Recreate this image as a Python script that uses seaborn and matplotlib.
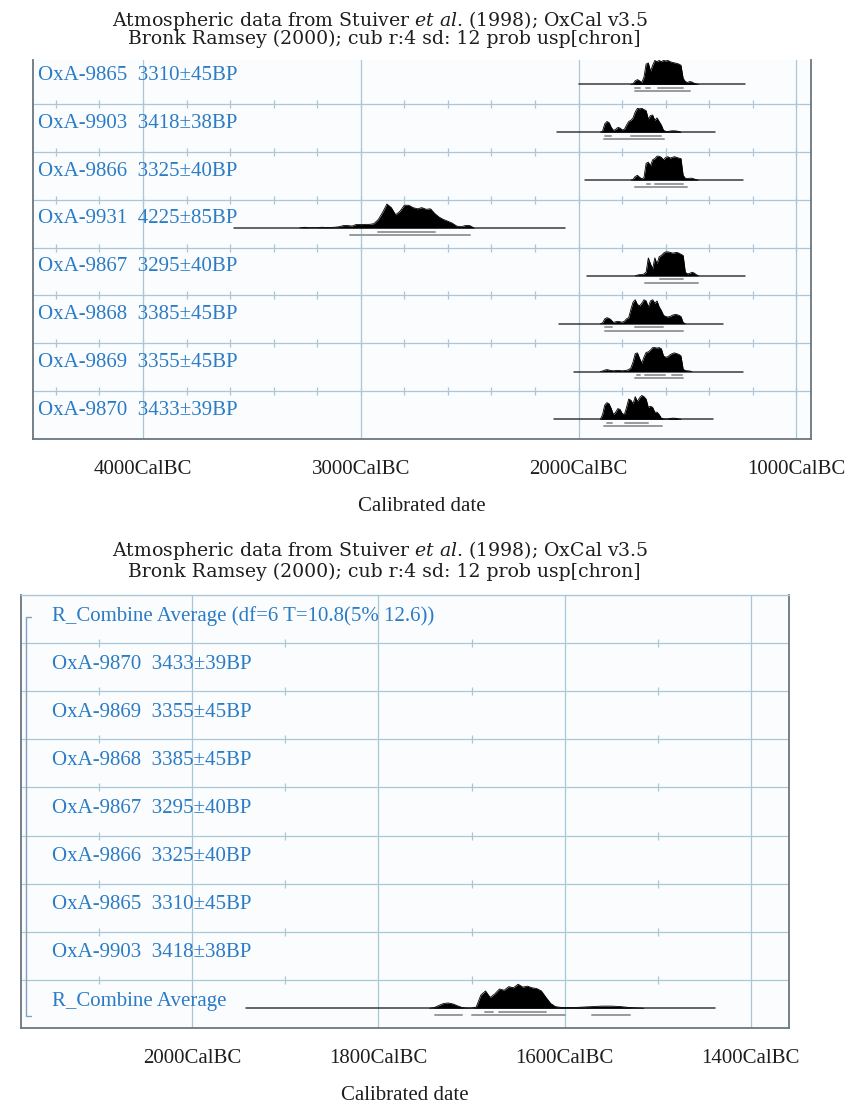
import numpy as np
import matplotlib
matplotlib.use("Agg")
import matplotlib.pyplot as plt
import seaborn as sns
from matplotlib.ticker import FixedLocator, FuncFormatter

# ---- data ----
lab_codes = ["OxA-9865", "OxA-9903", "OxA-9866", "OxA-9931",
             "OxA-9867", "OxA-9868", "OxA-9869", "OxA-9870"]
bp_ages = ["3310\u00b145BP", "3418\u00b138BP", "3325\u00b140BP", "4225\u00b185BP",
           "3295\u00b140BP", "3385\u00b145BP", "3355\u00b145BP", "3433\u00b139BP"]
# calibrated range drawn as the thin line (years BC)
range_start = [2000, 2099, 1969, 3580, 1962, 2092, 2023, 2115]
range_end = [1235, 1374, 1244, 2062, 1237, 1336, 1244, 1382]

# probability curves: first year BC, step in years, relative height
p9865_start, p9865_step = 1760, 10
p9865 = [0, 0.02, 0.15, 0.2, 0.15, 0.08, 0.3, 0.85, 0.9, 0.55, 0.8, 1.0, 0.95, 1.0,
         0.95, 1.0, 0.98, 1.0, 0.95, 0.92, 0.9, 0.88, 0.85, 0.8, 0.25, 0.12, 0.08,
         0.12, 0.1, 0.05, 0.02, 0]
p9903_start, p9903_step = 1900, 10
p9903 = [0, 0.05, 0.35, 0.45, 0.4, 0.2, 0.08, 0.12, 0.2, 0.18, 0.1, 0.12, 0.3, 0.45,
         0.5, 0.6, 0.85, 1.0, 0.98, 1.0, 0.95, 0.9, 0.55, 0.7, 0.72, 0.5, 0.6, 0.45,
         0.3, 0.08, 0.04, 0.03, 0.05, 0.06, 0.06, 0.05, 0.03, 0]
p9866_start, p9866_step = 1760, 10
p9866 = [0, 0.03, 0.15, 0.2, 0.12, 0.05, 0.1, 0.7, 0.75, 0.6, 0.85, 0.9, 1.0, 1.0,
         0.95, 0.85, 0.95, 0.98, 0.92, 0.95, 0.98, 0.95, 0.92, 0.9, 0.2, 0.08, 0.06,
         0.08, 0.08, 0.05, 0.02, 0]
p9931_start, p9931_step = 3280, 20
p9931 = [0, 0.03, 0.01, 0.01, 0.01, 0.03, 0.02, 0.02, 0.03, 0.05, 0.1, 0.1, 0.08,
         0.15, 0.14, 0.15, 0.15, 0.18, 0.35, 0.65, 1.0, 0.85, 0.55, 0.7, 0.95, 0.95,
         0.85, 0.8, 0.85, 0.78, 0.8, 0.6, 0.45, 0.35, 0.28, 0.2, 0.08, 0.05, 0.1,
         0.1, 0]
p9867_start, p9867_step = 1740, 10
p9867 = [0, 0.03, 0.05, 0.05, 0.08, 0.15, 0.75, 0.5, 0.3, 0.75, 0.5, 0.8, 0.85, 0.95,
         1.0, 1.0, 0.98, 0.95, 0.96, 0.98, 0.95, 0.9, 0.85, 0.15, 0.08, 0.1, 0.15,
         0.12, 0.05, 0]
p9868_start, p9868_step = 1900, 10
p9868 = [0, 0.03, 0.2, 0.25, 0.22, 0.15, 0.05, 0.08, 0.1, 0.08, 0.06, 0.1, 0.2, 0.25,
         0.6, 0.9, 1.0, 0.8, 0.75, 0.85, 1.0, 0.95, 0.7, 0.95, 1.0, 0.85, 0.95, 0.7,
         0.55, 0.35, 0.3, 0.28, 0.3, 0.35, 0.38, 0.38, 0.35, 0.3, 0.05, 0]
p9869_start, p9869_step = 1900, 10
p9869 = [0, 0.02, 0.06, 0.08, 0.06, 0.04, 0.03, 0.04, 0.05, 0.04, 0.03, 0.04, 0.05,
         0.08, 0.15, 0.4, 0.75, 0.78, 0.55, 0.35, 0.6, 0.8, 0.82, 0.9, 1.0, 1.0, 0.98,
         1.0, 0.95, 0.65, 0.6, 0.62, 0.7, 0.75, 0.78, 0.75, 0.72, 0.65, 0.1, 0.04,
         0.03, 0.02, 0]
p9870_start, p9870_step = 1900, 10
p9870 = [0, 0.2, 0.6, 0.7, 0.65, 0.45, 0.2, 0.3, 0.45, 0.42, 0.25, 0.2, 0.5, 0.85,
         0.8, 0.65, 0.95, 0.75, 0.9, 1.0, 0.95, 0.85, 0.5, 0.55, 0.5, 0.3, 0.3, 0.2,
         0.05, 0.02, 0.01, 0.02, 0.04, 0.05, 0.05, 0.04, 0.02, 0]

hpd68 = [[(1740, 1718), (1690, 1672), (1634, 1519)],
         [(1880, 1850), (1760, 1620)],
         [(1687, 1672), (1650, 1519)],
         [(2920, 2660)],
         [(1626, 1519)],
         [(1878, 1847), (1740, 1611)],
         [(1733, 1717), (1695, 1603), (1572, 1527)],
         [(1870, 1847), (1786, 1680)]]
hpd95 = [[(1740, 1490)], [(1885, 1608)], [(1740, 1504)], [(3050, 2500)],
         [(1695, 1450)], [(1878, 1519)], [(1740, 1519)], [(1885, 1618)]]

# combined panel
comb_labels = ["R_Combine Average (df=6 T=10.8(5% 12.6))",
               "OxA-9870  3433\u00b139BP", "OxA-9869  3355\u00b145BP",
               "OxA-9868  3385\u00b145BP", "OxA-9867  3295\u00b140BP",
               "OxA-9866  3325\u00b140BP", "OxA-9865  3310\u00b145BP",
               "OxA-9903  3418\u00b138BP", "R_Combine Average"]
comb_start, comb_step = 1745, 5
comb = [0, 0.03, 0.12, 0.2, 0.22, 0.18, 0.1, 0.03, 0.01, 0.01, 0.05, 0.55, 0.72,
        0.45, 0.6, 0.8, 0.75, 0.9, 0.85, 1.0, 0.88, 0.92, 0.85, 0.82, 0.72, 0.45,
        0.2, 0.07, 0.04, 0.03, 0.03, 0.03, 0.04, 0.05, 0.06, 0.07, 0.08, 0.09, 0.09,
        0.09, 0.08, 0.07, 0.05, 0.03, 0.02, 0.01, 0]
comb_range = (1942, 1438)
comb_hpd68 = [(1686, 1677), (1670, 1620)]
comb_hpd95 = [(1739, 1710), (1699, 1600), (1571, 1530)]

title1 = r"Atmospheric data from Stuiver $\mathit{et\ al}$. (1998); OxCal v3.5"
title2 = "Bronk Ramsey (2000); cub r:4 sd: 12 prob usp[chron]"

# ---- style ----
sns.set_theme(style="white")
plt.rcParams["font.family"] = ["Liberation Serif", "DejaVu Serif"]
plt.rcParams["mathtext.fontset"] = "dejavuserif"

blue = "#2a7cc6"
grid_col = "#a9c7d8"
frame_col = "#6a7680"
base_col = "#3a3a3a"
hpd_col = "#9a9a9a"
bg = "#fbfcfd"

curves = [(p9865_start, p9865_step, p9865), (p9903_start, p9903_step, p9903),
          (p9866_start, p9866_step, p9866), (p9931_start, p9931_step, p9931),
          (p9867_start, p9867_step, p9867), (p9868_start, p9868_step, p9868),
          (p9869_start, p9869_step, p9869), (p9870_start, p9870_step, p9870)]

fig = plt.figure(figsize=(8.47, 11.10), dpi=100)
fig.patch.set_facecolor("white")


def draw_curve(ax, k, start, step, vals, rng, h68, h95):
    base = k + 0.41
    dates = start - step * np.arange(len(vals))
    dens = np.array(vals)
    ax.plot(list(rng), [base, base], color=base_col, lw=1.1, zorder=3)
    ax.fill_between(dates, base, base + 0.5 * dens, color="black", lw=0, zorder=4)
    sns.lineplot(x=dates, y=base + 0.5 * dens, ax=ax, color="black", lw=0.6,
                 sort=False, estimator=None, zorder=4)
    for a, b in h68:
        ax.plot([a, b], [k + 0.335] * 2, color=hpd_col, lw=1.4, zorder=3)
    for a, b in h95:
        ax.plot([a, b], [k + 0.265] * 2, color=hpd_col, lw=1.4, zorder=3)


def frame(ax, xlim, majors, minors, row_ticks, nrows, top_spine):
    ax.set_facecolor(bg)
    ax.set_xlim(*xlim)
    for m in majors:
        ax.axvline(m, color=grid_col, lw=0.9, zorder=1)
    for k in range(1, nrows):
        ax.axhline(k, color=grid_col, lw=0.9, zorder=1)
        ax.plot(row_ticks, [k] * len(row_ticks), ls="none", marker="|", ms=6,
                mew=0.9, color=grid_col, zorder=1)
    ax.xaxis.set_major_locator(FixedLocator(majors))
    ax.xaxis.set_minor_locator(FixedLocator(minors))
    ax.xaxis.set_major_formatter(FuncFormatter(lambda v, p: "%dCalBC" % v))
    ax.tick_params(axis="x", which="both", direction="in", length=6, width=0.9,
                   color=frame_col, labelsize=15, pad=15, labelcolor="#1e1e1e")
    ax.set_yticks([])
    for s in ["left", "right", "bottom"]:
        ax.spines[s].set_color(frame_col)
        ax.spines[s].set_linewidth(1.3)
    if top_spine:
        ax.spines["top"].set_color(grid_col)
        ax.spines["top"].set_linewidth(1.0)
    else:
        ax.spines["top"].set_visible(False)
    ax.set_xlabel("Calibrated date", fontsize=15, labelpad=13, color="#1e1e1e")


# ---- top panel ----
ax1 = fig.add_axes([33 / 847, 1 - 439 / 1110, 778 / 847, 379 / 1110])
frame(ax1, (4505, 933), [4000, 3000, 2000, 1000], list(range(4400, 999, -200)),
      list(range(4400, 999, -200)), 8, False)
ax1.set_ylim(0, 7.92)
n = len(lab_codes)
for i in range(n):
    k = n - 1 - i
    ax1.text(0.0065, k + 0.6, lab_codes[i] + "  " + bp_ages[i],
             transform=ax1.get_yaxis_transform(), color=blue, fontsize=15,
             va="center", ha="left", zorder=5)
    s, st, v = curves[i]
    draw_curve(ax1, k, s, st, v, (range_start[i], range_end[i]), hpd68[i], hpd95[i])

# ---- bottom panel ----
ax2 = fig.add_axes([21 / 847, 1 - 1028 / 1110, 768 / 847, 433 / 1110])
frame(ax2, (2184, 1359), [2000, 1800, 1600, 1400], [2100, 1900, 1700, 1500],
      [2100, 1900, 1700, 1500], 9, True)
ax2.set_ylim(0, 9)
m = len(comb_labels)
for i in range(m):
    k = m - 1 - i
    ax2.text(0.04, k + 0.56, comb_labels[i], transform=ax2.get_yaxis_transform(),
             color=blue, fontsize=15, va="center", ha="left", zorder=5)
draw_curve(ax2, 0, comb_start, comb_step, comb, comb_range, comb_hpd68, comb_hpd95)
# combine bracket
tr = ax2.get_yaxis_transform()
ax2.plot([0.013, 0.0065, 0.0065, 0.013], [8.55, 8.55, 0.25, 0.25], transform=tr,
         color="#7fa3c0", lw=1.0, zorder=2)

# ---- titles ----
for y1, y2 in [(20, 39), (551, 572)]:
    fig.text(380 / 847, 1 - y1 / 1110, title1, family="DejaVu Serif", fontsize=13.6,
             ha="center", va="center", color="#1e1e1e")
    fig.text(384 / 847, 1 - y2 / 1110, title2, family="DejaVu Serif", fontsize=13.6,
             ha="center", va="center", color="#1e1e1e")

fig.savefig("out.png", dpi=100)
